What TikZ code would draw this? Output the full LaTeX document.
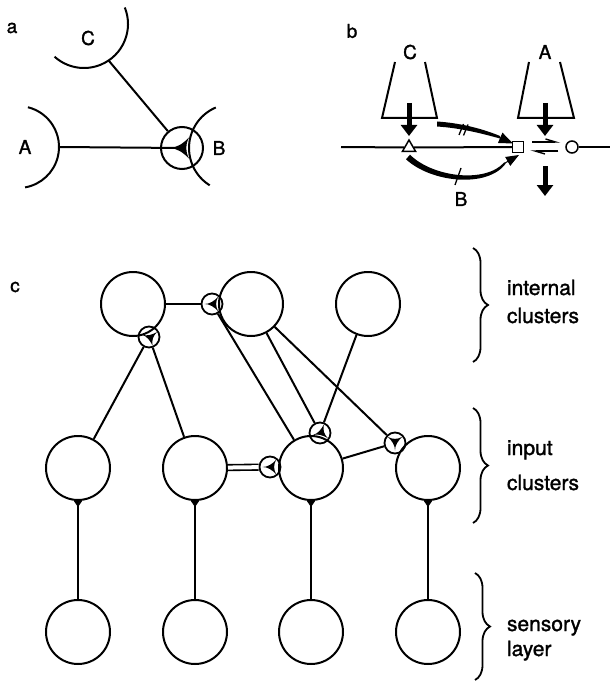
\documentclass[tikz,border=0pt]{standalone}
\usepackage{fontspec}
\setmainfont{TeX Gyre Heros}[FakeBold=1.4]
\usetikzlibrary{arrows.meta,calc,decorations.pathreplacing,shapes.geometric}

\tikzset{
  cell/.style={circle,draw,minimum size=64pt,inner sep=0pt},
  syn/.style={circle,draw,line width=1.8pt,minimum size=21pt,inner sep=0pt},
  lbl/.style={font=\fontsize{19}{23}\selectfont,inner sep=0pt},
  side/.style={font=\fontsize{21}{25}\selectfont,anchor=base west,inner sep=0pt},
  grp/.style={decorate,decoration={brace,amplitude=15pt},line width=1.8pt},
  fat/.style={line width=5pt,-{Triangle[length=11pt,width=16pt]}},
  harp/.style={line width=1.4pt,-{Straight Barb[harpoon,length=10pt,width=6pt]}},
  knob/.pic={
    \fill[rotate=#1] (-7.5,0) .. controls (-2,0) and (2,-3) .. (6,-7)
      .. controls (3.5,-2) and (3.5,2) .. (6,7)
      .. controls (2,3) and (-2,0) .. (-7.5,0) -- cycle;
  }
}

\begin{document}
\begin{tikzpicture}[x=1pt,y=-1pt,line width=2pt]
\useasboundingbox (0,0) rectangle (610,682);

% a: three cells and a synapse
\node[lbl] at (12,28) {a};
\draw (84,24) ++(-22:44) arc[start angle=-22,end angle=132,radius=44];
\draw (18,147) ++(-76:41) arc[start angle=-76,end angle=80,radius=41];
\draw (233,148) ++(122:44) arc[start angle=122,end angle=247,radius=44];
\path (84,24) ++(56:44) coordinate (ca);
\path (18,147) ++(0:41) coordinate (aa);
\node[syn,line width=2pt,minimum size=42pt] (Sa) at (182,148) {};
\draw (aa) -- (Sa.center);
\draw (ca) -- (Sa);
\pic[scale=1.5] at (180,148) {knob=0};
\node[lbl] at (88,38) {C};
\node[lbl] at (25,147) {A};
\node[lbl] at (219,148) {B};

% b: inputs on one line
\node[lbl] at (352,31) {b};
\node[lbl] at (410,52) {C};
\node[lbl] at (545,52) {A};
\node[lbl] at (461,199) {B};
\draw (395,62) -- (382,118) -- (437,118) -- (425,62);
\draw (529,62) -- (518,118) -- (574,118) -- (560,62);
\coordinate (L) at (341,147);
\coordinate (Rt) at (610,147);
\node[regular polygon,regular polygon sides=3,draw,line width=1.5pt,fill=white,minimum size=15pt,inner sep=0pt] (tri) at (409,147.5) {};
\node[rectangle,draw,line width=1.5pt,fill=white,minimum size=11pt,inner sep=0pt] (sq) at (518,147) {};
\node[circle,draw,line width=1.5pt,fill=white,minimum size=12pt,inner sep=0pt] (ci) at (572,147) {};
\draw (L) -- (tri) -- (sq);
\draw (ci) -- (Rt);
\draw[harp] ($(sq.east)+(8,-5)$) -- ($(ci.west)+(-5,-5)$);
\draw[harp] ($(ci.west)+(-7,4)$) -- ($(sq.east)+(6,4)$);
\coordinate (Cin) at (409,103);
\coordinate (Cout) at (409,136);
\coordinate (Ain) at (545,103);
\coordinate (Aout) at (545,136);
\coordinate (Dn) at (545,166);
\coordinate (Dnt) at (545,196);
\draw[fat] (Cin) -- (Cout);
\draw[fat] (Ain) -- (Aout);
\draw[fat] (Dn) -- (Dnt);
\fill (437,121.5) .. controls (460,123) and (482,128.5) .. (500,136)
  -- (500,138.5) .. controls (480,133) and (460,128) .. (437,126.5) -- cycle;
\draw[line width=1pt,-{Triangle[length=14pt,width=11pt]}] (499,137.3) -- (513,143.5);
\fill (410,154.7) .. controls (433,177.5) and (486,183.5) .. (504.3,162.3)
  -- (505.7,163.7) .. controls (487,188.5) and (431,182.5) .. (406,159.3) -- cycle;
\draw[line width=1pt,-{Triangle[length=13pt,width=10pt]}] (505,163) -- (519,155);
\draw[line width=1.3pt] (459,135) -- (463.5,124);
\draw[line width=1.3pt] (463.5,135.5) -- (468,124.5);
\draw[line width=1.3pt] (455,185) -- (461,168);

% c: network of clusters
\node[lbl] at (15,287) {c};
\node[cell] (I1) at (133,304) {};
\node[cell] (I2) at (251,304) {};
\node[cell] (I3) at (368,304) {};
\foreach \n/\x in {1/78,2/195,3/311,4/428}{
  \node[cell] (N\n) at (\x,468) {};
  \node[cell] (R\n) at (\x,632) {};
  \draw (R\n) -- (N\n);
  \draw[line width=1pt,-{Triangle[length=6pt,width=8pt]}] (N\n.south) -- ++(0,6);
}
\node[syn] (S1) at (149,337) {};
\node[syn] (S2) at (212,304) {};
\node[syn] (S3) at (320,433) {};
\node[syn] (S4) at (395,443) {};
\node[syn] (S5) at (270,467) {};
\draw (I1) -- (S2);
\draw (N1) -- (S1);
\draw (N2) -- (S1);
\draw (S2) -- (N3);
\draw (I2) -- (S3);
\draw (I3) -- (S3);
\draw (I2) -- (S4);
\draw (N3) -- (S4);
\draw[double,double distance=4pt,line width=1.6pt] (N2) -- (S5);
\foreach \s/\a in {S1/-18,S2/0,S3/16,S4/90,S5/0}
  \pic at (\s) {knob=\a};

% layer braces
\draw[grp] (473,248) -- (473,362);
\draw[grp] (473,408) -- (473,523);
\draw[grp] (475,573) -- (475,680);
\node[side] at (506,295) {internal};
\node[side] at (506,323) {clusters};
\node[side] at (506,455) {input};
\node[side] at (506,490) {clusters};
\node[side] at (506,631) {sensory};
\node[side] at (506,656) {layer};
\end{tikzpicture}
\end{document}
